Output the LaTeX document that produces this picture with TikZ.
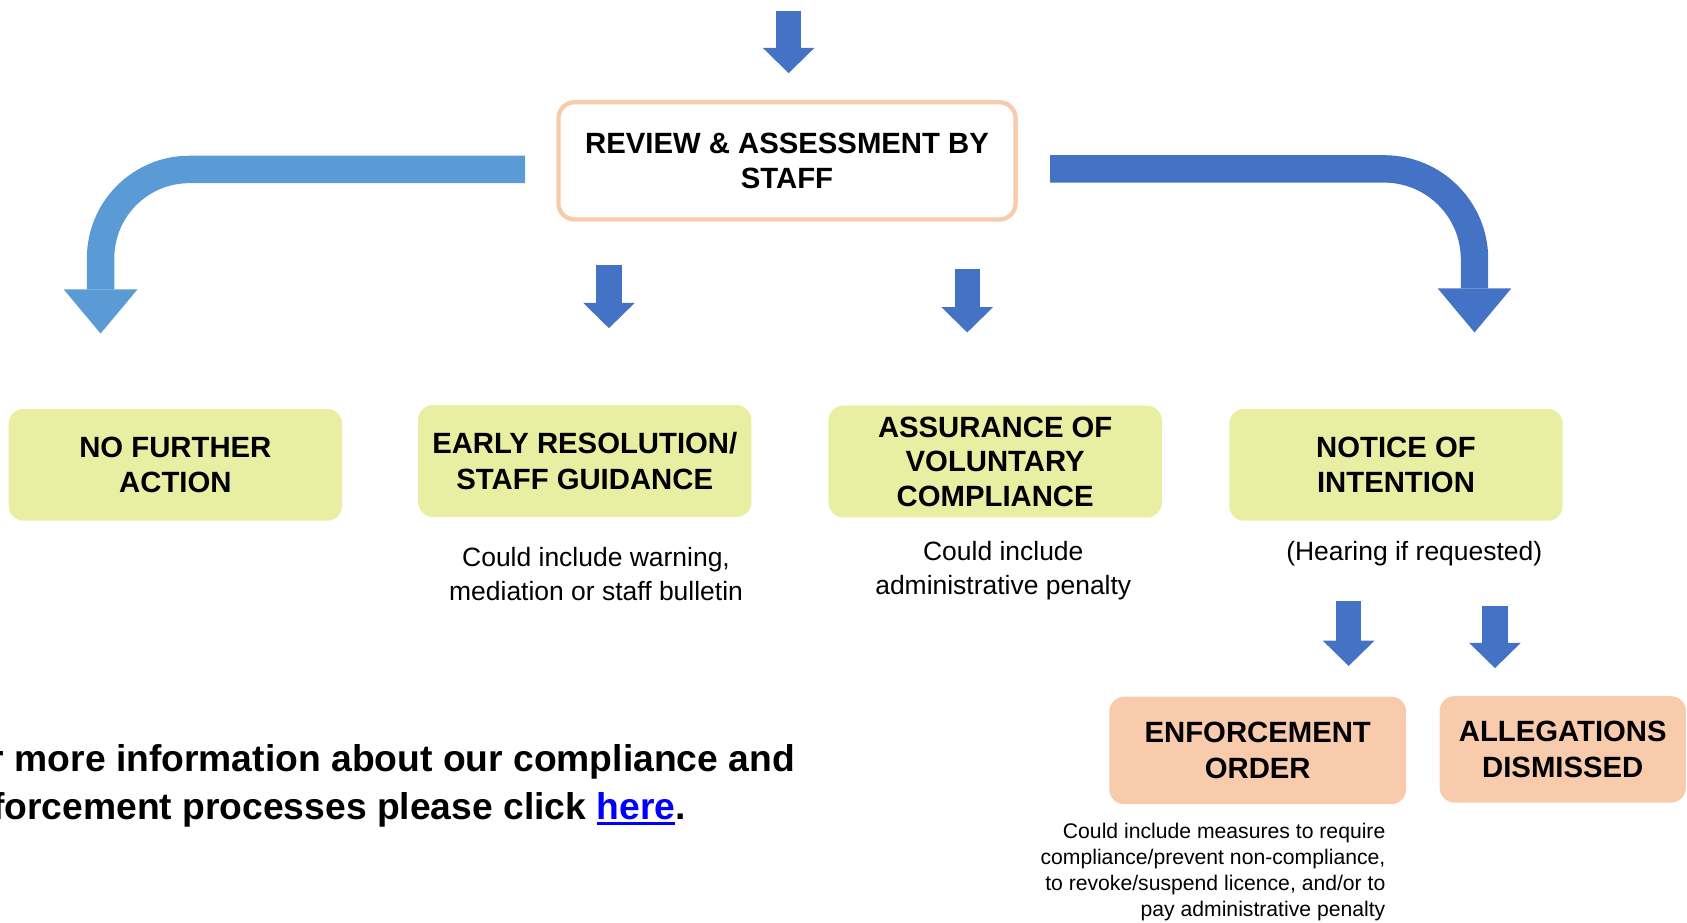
\documentclass[tikz,border=0pt]{standalone}
\usepackage{fontspec}
\setmainfont{Liberation Sans}
\usepackage{tikz}
\usetikzlibrary{positioning,arrows.meta,calc}
\definecolor{arrowblue}{HTML}{4472C4}
\definecolor{lightarrow}{HTML}{5B9BD5}
\definecolor{boxgreen}{HTML}{E8EFA3}
\definecolor{boxpeach}{HTML}{F8CBAD}
\definecolor{linkblue}{HTML}{0000FF}
\newcommand{\linktext}[1]{\textcolor{linkblue}{\setbox0=\hbox{#1}\rlap{\rule[-0.106cm]{\wd0}{0.062cm}}\box0}}
\tikzstyle{reviewbox} = [rectangle, draw=boxpeach, line width=0.08cm, fill=white, %
   rounded corners=0.3cm, text centered, align=center, %
   minimum width=8.5cm, minimum height=2.18cm, font=\bfseries\fontsize{15.5}{18.8}\selectfont]
\tikzstyle{greenbox} = [rectangle, fill=boxgreen, rounded corners=0.28cm, %
   text centered, align=center, minimum width=6.2cm, minimum height=2.08cm, %
   font=\bfseries\fontsize{15.5}{18.8}\selectfont]
\tikzstyle{peachbox} = [rectangle, fill=boxpeach, rounded corners=0.28cm, %
   text centered, align=center, minimum height=2.0cm, %
   font=\bfseries\fontsize{15.5}{18.8}\selectfont]
\tikzstyle{note} = [align=center, inner sep=0pt, font=\fontsize{14}{18.4}\selectfont]
\tikzstyle{smallnote} = [align=right, inner sep=0pt, font=\fontsize{11.2}{13.8}\selectfont]
\tikzstyle{infotext} = [align=left, inner sep=0pt, font=\bfseries\fontsize{19.7}{25}\selectfont]
\tikzstyle{bigarrow} = [draw, line width=0.51cm, -{Triangle[width=1.37cm,length=0.82cm,line width=0pt]}]
\tikzstyle{smallarrow} = [draw, color=arrowblue, line width=0.47cm, %
   -{Triangle[width=0.96cm,length=0.47cm,line width=0pt]}]

\begin{document}
\begin{tikzpicture}[x=0.02cm, y=-0.02cm]
   \useasboundingbox (0,0) rectangle (1568,857);
   \clip (0,0) rectangle (1568,857);

   % Place nodes
   \node[reviewbox] (review) at (731.5,149.5) {REVIEW \& ASSESSMENT BY\\STAFF};

   \node[greenbox] (nofurther) at (163,432) {NO FURTHER\\ACTION};
   \node[greenbox] (early) at (543.5,428.5) {EARLY RESOLUTION/\\STAFF GUIDANCE};
   \node[greenbox, font=\bfseries\fontsize{15.5}{18.2}\selectfont] (assurance) at (925,429)
      {ASSURANCE OF\\VOLUNTARY\\COMPLIANCE};
   \node[greenbox] (notice) at (1297.5,432) {NOTICE OF\\INTENTION};

   \node[note] (earlynote) at (554,533.5) {Could include warning,\\mediation or staff bulletin};
   \node[note] (assurancenote) at (932.5,530.5) {Could include\\administrative penalty};
   \node[note] (noticenote) at (1314.5,515) {(Hearing if requested)};

   \node[peachbox, minimum width=5.52cm] (enforcement) at (1169,697.5) {ENFORCEMENT\\ORDER};
   \node[peachbox, minimum width=4.58cm, minimum height=1.98cm] (dismissed) at (1452.5,696.5)
      {ALLEGATIONS\\DISMISSED};
   \node[smallnote, anchor=east] (enforcementnote) at (1288,810.5) {%
      Could include measures to require\\compliance/prevent non-compliance,\\%
      to revoke/suspend licence, and/or to\\pay administrative penalty};

   \node[infotext, anchor=west] (info) at (-52,730.5) {%
      For more information about our compliance and\\%
      \hspace*{0.08cm}enforcement processes please click \linktext{here}.};

   % Draw edges
   \coordinate (incoming) at (733,10);
   \coordinate (reviewin) at (733,68);
   \path [smallarrow] (incoming) -- (reviewin);

   % left and right branches
   \coordinate (leftfrom) at (488,157.5);
   \coordinate (leftto) at (93.5,310);
   \path [bigarrow, color=lightarrow, rounded corners=1.65cm] (leftfrom) -| (leftto);
   \coordinate (rightfrom) at (976,157);
   \coordinate (rightto) at (1370.5,309);
   \path [bigarrow, color=arrowblue, rounded corners=1.68cm] (rightfrom) -| (rightto);

   % middle branches
   \coordinate (earlyfrom) at (566,246);
   \coordinate (earlyto) at (566,305);
   \path [smallarrow] (earlyfrom) -- (earlyto);
   \coordinate (assurancefrom) at (899,250);
   \coordinate (assuranceto) at (899,309);
   \path [smallarrow] (assurancefrom) -- (assuranceto);

   % after the notice
   \coordinate (enforcementfrom) at (1253.5,559);
   \coordinate (enforcementto) at (1253.5,619);
   \path [smallarrow] (enforcementfrom) -- (enforcementto);
   \coordinate (dismissedfrom) at (1389.5,563);
   \coordinate (dismissedto) at (1389.5,621);
   \path [smallarrow] (dismissedfrom) -- (dismissedto);
\end{tikzpicture}
\end{document}
